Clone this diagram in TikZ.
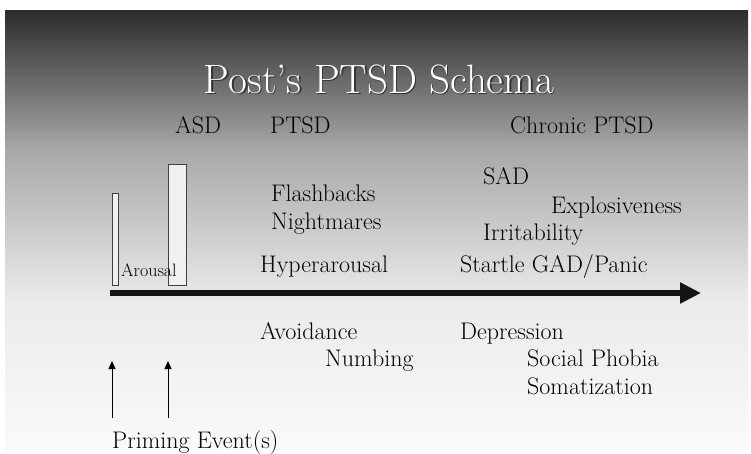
\documentclass[tikz,border=0pt]{standalone}
\usetikzlibrary{arrows.meta}

\begin{document}
\begin{tikzpicture}[x=1pt, y=-1pt,
  lbl/.style={anchor=base west, inner sep=0pt, font=\fontsize{24}{24}\selectfont},
  hdr/.style={anchor=base west, inner sep=0pt, font=\fontsize{24}{24}\selectfont, black},
  bar/.style={draw=black!75, fill=black!6, line width=0.8pt}]
\useasboundingbox (0,0) rectangle (751,453);
% background
\shade[top color=black!83, bottom color=black!34] (5,10) rectangle (748,150.5);
\shade[top color=black!34, bottom color=black!8] (5,150) rectangle (748,300.5);
\shade[top color=black!8, bottom color=black!2] (5,300) rectangle (748,450);
% title
\node[inner sep=0pt, black!80, font=\fontsize{41}{41}\selectfont] at (380.5,80.5) {Post’s PTSD Schema};
\node (title) [inner sep=0pt, white, font=\fontsize{41}{41}\selectfont] at (379,79) {Post’s PTSD Schema};
% phases
\node (asd) [hdr] at (175,133) {ASD};
\node (ptsd) [hdr] at (270,133) {PTSD};
\node (chronic) [hdr] at (510,133) {Chronic PTSD};
% bars
\node (small) [bar, anchor=south west, minimum width=6pt, minimum height=92pt, inner sep=0pt] at (112,286) {};
\node (big) [bar, anchor=south west, minimum width=18pt, minimum height=121pt, inner sep=0pt] at (168,286) {};
\node (arousal) [anchor=base west, inner sep=0pt, font=\fontsize{18}{18}\selectfont] at (121,276) {Arousal};
% time axis
\coordinate (t0) at (110,293);
\coordinate (t1) at (701,293);
\draw[line width=6pt, black!92, -{Triangle[length=21pt, width=20pt]}] (t0) -- (t1);
% symptoms
\node (flash) [lbl] at (271,201) {Flashbacks};
\node (night) [lbl] at (271,229) {Nightmares};
\node (hyper) [lbl] at (260,272) {Hyperarousal};
\node (sad) [lbl] at (483,184) {SAD};
\node (explo) [lbl] at (551,213) {Explosiveness};
\node (irrit) [lbl] at (483,240) {Irritability};
\node (startle) [lbl] at (460,272) {Startle GAD/Panic};
\node (avoid) [lbl] at (260,339) {Avoidance};
\node (numb) [lbl] at (325,366) {Numbing};
\node (depr) [lbl] at (460,339) {Depression};
\node (social) [lbl] at (527,366) {Social Phobia};
\node (somat) [lbl] at (527,394) {Somatization};
% priming events
\node (prime) [lbl] at (112,448) {Priming Event(s)};
\coordinate (p1) at (112,418);
\coordinate (p2) at (168,418);
\draw[line width=1pt, -{Triangle[length=8pt, width=7pt]}] (p1) -- ++(0,-57);
\draw[line width=1pt, -{Triangle[length=8pt, width=7pt]}] (p2) -- ++(0,-57);
\end{tikzpicture}
\end{document}
